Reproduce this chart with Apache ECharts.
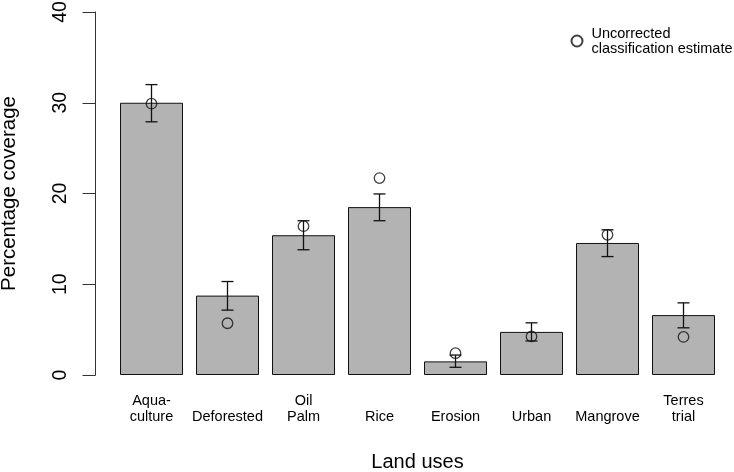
<!DOCTYPE html>
<html>
<head>
<meta charset="utf-8">
<script src="https://cdn.jsdelivr.net/npm/echarts@6/dist/echarts.min.js"></script>
<style>html,body{margin:0;padding:0;background:#fff}#c{width:734px;height:472px}</style>
</head>
<body>
<div id="c"></div>
<script>
var categories = ['Aqua-\nculture', 'Deforested', 'Oil\nPalm', 'Rice', 'Erosion', 'Urban', 'Mangrove', 'Terres\ntrial'];
var barValues = [30.0, 8.75, 15.4, 18.5, 1.5, 4.75, 14.55, 6.6];
var errLow = [27.9, 7.15, 13.8, 17.0, 0.85, 3.75, 13.05, 5.2];
var errHigh = [32.0, 10.3, 17.0, 19.95, 2.2, 5.75, 16.0, 7.95];
var uncorrected = [29.9, 5.7, 16.4, 21.7, 2.4, 4.25, 15.45, 4.2];
var yTicks = [0, 10, 20, 30, 40];

var FONT = "'Liberation Sans', Arial, sans-serif";
var chart = echarts.init(document.getElementById('c'), null, {renderer: 'canvas'});

var errData = categories.map(function (c, i) { return [i, errLow[i], errHigh[i]]; });

chart.setOption({
  animation: false,
  textStyle: {fontFamily: FONT},
  grid: {left: 113.5, right: 12.5, top: 12, bottom: 97, containLabel: false, outerBoundsMode: 'none'},
  legend: {
    left: 570.5, top: 26, padding: 0,
    itemWidth: 11, itemHeight: 11, itemGap: 8,
    icon: 'circle',
    data: [{name: 'Uncorrected\nclassification estimate'}],
    textStyle: {fontSize: 14.5, color: '#000', lineHeight: 15, fontFamily: FONT, padding: [0, 0, 0, 4]},
    selectedMode: false
  },
  xAxis: {
    type: 'category',
    data: categories,
    boundaryGap: true,
    axisLine: {show: false},
    axisTick: {show: false},
    axisLabel: {
      interval: 0,
      margin: 18,
      fontSize: 14.5,
      lineHeight: 16,
      color: '#000',
      fontFamily: FONT,
      verticalAlign: 'top',
      formatter: function (v) { return v.indexOf('\n') < 0 ? '\n' + v : v; }
    },
    name: 'Land uses',
    nameLocation: 'middle',
    nameGap: 77,
    nameTextStyle: {fontSize: 20, color: '#000', fontFamily: FONT}
  },
  yAxis: {
    type: 'value',
    min: 0, max: 40, interval: 10,
    offset: 18,
    splitLine: {show: false},
    axisLine: {show: true, lineStyle: {color: '#333', width: 1}},
    axisTick: {show: true, length: 13, lineStyle: {color: '#333', width: 1}},
    axisLabel: {
      rotate: 90, margin: 25, fontSize: 19.5, color: '#000', fontFamily: FONT,
      formatter: function (v) { return yTicks.indexOf(v) >= 0 ? String(v) : ''; }
    },
    name: 'Percentage coverage',
    nameLocation: 'middle',
    nameGap: 76,
    nameRotate: 90,
    nameTextStyle: {fontSize: 20.5, color: '#000', fontFamily: FONT}
  },
  series: [
    {
      type: 'bar',
      data: barValues,
      barWidth: 63,
      itemStyle: {color: '#b3b3b3', borderColor: '#111', borderWidth: 1},
      z: 2,
      silent: true
    },
    {
      type: 'custom',
      data: errData,
      z: 3,
      silent: true,
      renderItem: function (params, api) {
        var x = api.value(0);
        var lo = api.coord([x, api.value(1)]);
        var hi = api.coord([x, api.value(2)]);
        var hw = 6;
        var st = {stroke: '#111', lineWidth: 1.3};
        return {
          type: 'group',
          children: [
            {type: 'line', shape: {x1: lo[0], y1: lo[1], x2: hi[0], y2: hi[1]}, style: st},
            {type: 'line', shape: {x1: lo[0] - hw, y1: lo[1], x2: lo[0] + hw, y2: lo[1]}, style: st},
            {type: 'line', shape: {x1: hi[0] - hw, y1: hi[1], x2: hi[0] + hw, y2: hi[1]}, style: st}
          ]
        };
      }
    },
    {
      type: 'scatter',
      name: 'Uncorrected\nclassification estimate',
      data: uncorrected,
      symbol: 'circle',
      symbolSize: 10.5,
      z: 4,
      silent: true,
      itemStyle: {color: 'rgba(0,0,0,0)', borderColor: '#111', borderWidth: 1.3}
    }
  ]
});
</script>
</body>
</html>
